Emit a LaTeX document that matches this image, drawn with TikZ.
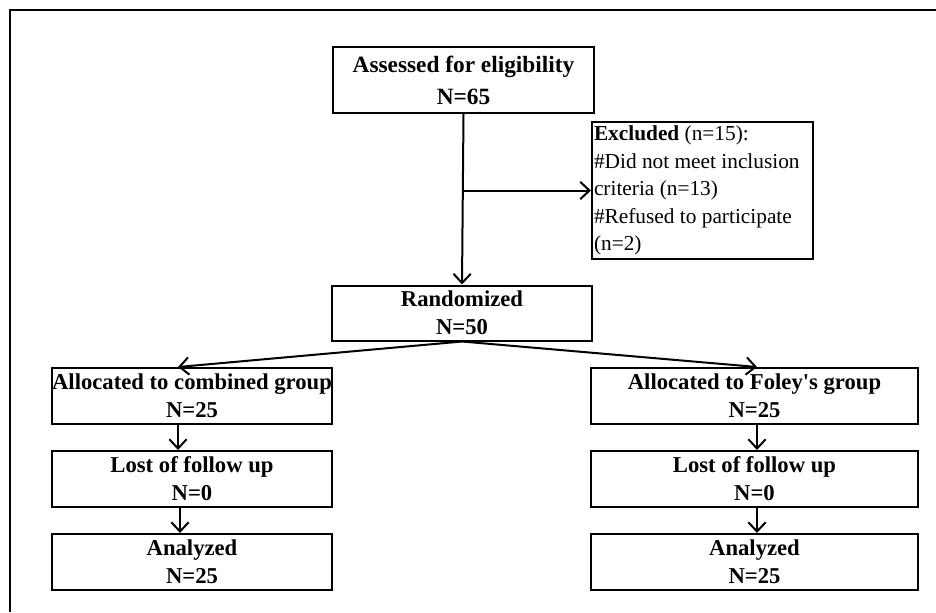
\documentclass[tikz,border=0pt]{standalone}
\usepackage{fontspec}
\setmainfont{Liberation Serif}
\usetikzlibrary{arrows.meta}

\begin{document}
\begin{tikzpicture}[x=0.75pt,y=-0.75pt,
	box/.style={draw,line width=1.5pt,align=center,inner sep=0pt,font=\bfseries\fontsize{17}{21}\selectfont},
	arr/.style={-{Straight Barb[length=7pt,width=13pt,line width=1.5pt]},line width=1.5pt}]
					\def\px{0.75pt}
					\useasboundingbox (0,0) rectangle (936,612);
					\draw[line width=2.2pt] (10,612) -- (10,10) -- (936,10);

					\node[box,minimum width=261*\px,minimum height=66*\px,font=\bfseries\fontsize{17.5}{24}\selectfont] (assess) at (463.5,80) {Assessed for eligibility\\N=65};
					\node[box,anchor=north west,align=flush left,text width=217*\px,inner xsep=2*\px,minimum height=137*\px,font=\fontsize{16}{20.6}\selectfont] (excl) at (591,121) {\textbf{Excluded} (n=15):\\\#Did not meet inclusion\\criteria (n=13)\\\#Refused to participate\\(n=2)};
					\node[box,minimum width=260*\px,minimum height=55*\px] (rand) at (462,313) {Randomized\\N=50};

					\def\rowA{396}
					\def\rowB{479}
					\def\rowC{562}
					\node[box,minimum width=280*\px,minimum height=56*\px] (combA) at (192,\rowA) {Allocated to combined group\\N=25};
					\node[box,minimum width=280*\px,minimum height=56*\px] (lostA) at (192,\rowB) {Lost of follow up\\N=0};
					\node[box,minimum width=280*\px,minimum height=56*\px] (anA) at (192,\rowC) {Analyzed\\N=25};
					\node[box,minimum width=327*\px,minimum height=56*\px] (foleyB) at (754.5,\rowA) {Allocated to Foley\textquotesingle s group\\N=25};
					\node[box,minimum width=327*\px,minimum height=56*\px] (lostB) at (754.5,\rowB) {Lost of follow up\\N=0};
					\node[box,minimum width=327*\px,minimum height=56*\px] (anB) at (754.5,\rowC) {Analyzed\\N=25};

					\coordinate (colA) at (178,0);
					\coordinate (colB) at (757,0);
					\draw[arr] (assess.south) -- (rand.north);
					\draw[arr] (assess.south |- excl.west) -- (excl.west);
					\draw[arr] (rand.south) -- (colA |- combA.north);
					\draw[arr] (rand.south) -- (colB |- foleyB.north);
					\draw[arr] (colA |- combA.south) -- (colA |- lostA.north);
					\draw[arr] ([xshift=2*\px]colA |- lostA.south) -- ([xshift=2*\px]colA |- anA.north);
					\draw[arr] (colB |- foleyB.south) -- (colB |- lostB.north);
					\draw[arr] (colB |- lostB.south) -- (colB |- anB.north);
				\end{tikzpicture}
\end{document}
